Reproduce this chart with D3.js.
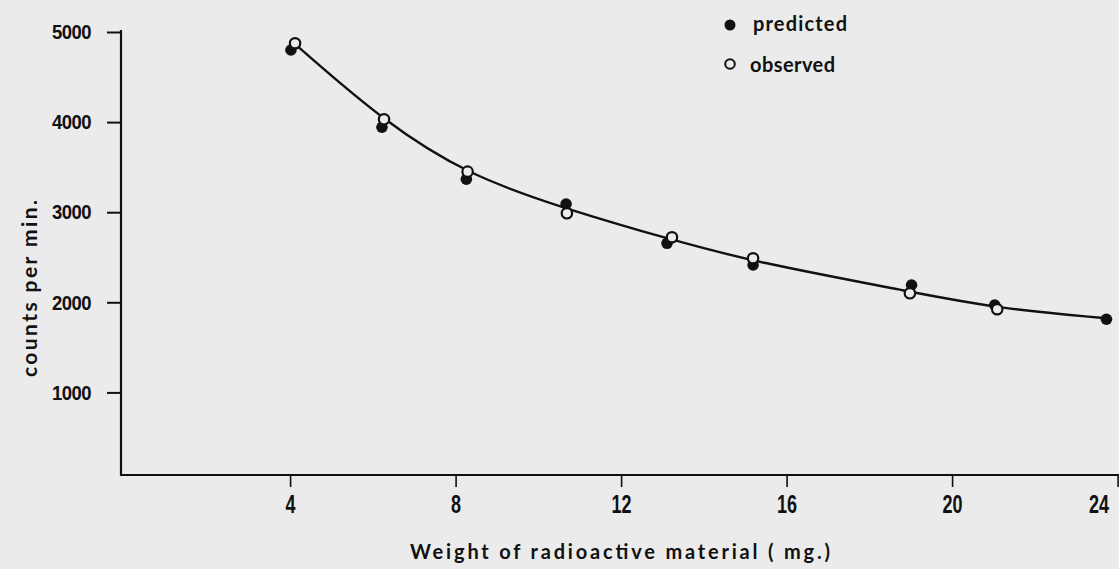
<!DOCTYPE html>
<html>
<head>
<meta charset="utf-8">
<script src="https://cdn.jsdelivr.net/npm/d3@7/dist/d3.min.js"></script>
<style>
  html, body { margin: 0; padding: 0; background: #ebebeb; }
  svg { display: block; }
</style>
</head>
<body>
<script>
// Tick values
const xTicks = [4, 8, 12, 16, 20, 24];
const yTicks = [1000, 2000, 3000, 4000, 5000];

// Predicted counts (filled dots)
const predictedWeight = [4.02, 6.22, 8.26, 10.67, 13.11, 15.19, 19.02, 21.03, 23.73];
const predictedCounts = [4800, 3943, 3366, 3091, 2655, 2414, 2192, 1970, 1812];

// Observed counts (open circles)
const observedWeight = [4.12, 6.27, 8.29, 10.69, 13.23, 15.19, 18.98, 21.09];
const observedCounts = [4875, 4031, 3450, 2988, 2722, 2489, 2100, 1923];

// Smooth fitted curve through the measurements
const curveWeight = [4.19, 6.27, 8.29, 10.67, 13.23, 15.19, 18.99, 21.05, 23.73];
const curveCounts = [4837, 4005, 3413, 3035, 2692, 2451, 2118, 1934, 1823];

const W = 1119, H = 569;
const ink = "#111";
const paper = "#ebebeb";
const titleFont = "Lato, 'DejaVu Sans', sans-serif";
const numFont = "'Liberation Sans', Arial, sans-serif";

const svg = d3.select("body").append("svg")
  .attr("width", W).attr("height", H)
  .style("background", paper);

const x = d3.scaleLinear().domain([0, 24]).range([124.6, 1117.6]);
const y = d3.scaleLinear().domain([0, 5000]).range([482.5, 32]);

const axisY = 475;   // baseline of the weight axis
const axisX = 121;   // position of the counts axis

// Counts axis
const yAxis = svg.append("g")
  .attr("transform", `translate(${axisX},0)`)
  .call(d3.axisLeft(y).tickValues(yTicks).tickSize(14).tickPadding(0).tickFormat(d3.format("d")));
yAxis.select(".domain").remove();
yAxis.selectAll(".tick line").attr("stroke", ink).attr("stroke-width", 2);
yAxis.selectAll(".tick text")
  .attr("x", 0)
  .attr("transform", "translate(-30,0) scale(0.88,1)")
  .attr("fill", ink)
  .style("font-family", numFont)
  .style("font-weight", "bold")
  .style("font-size", "21px")
  .style("letter-spacing", "-0.6px");
svg.append("line")
  .attr("x1", axisX).attr("x2", axisX)
  .attr("y1", y(5000) - 2).attr("y2", axisY + 1)
  .attr("stroke", ink).attr("stroke-width", 2.2);

// Weight axis
const xAxis = svg.append("g")
  .attr("transform", `translate(0,${axisY})`)
  .call(d3.axisBottom(x).tickValues(xTicks).tickSize(12).tickPadding(0).tickFormat(d3.format("d")));
xAxis.select(".domain").remove();
xAxis.selectAll(".tick line").attr("stroke", ink).attr("stroke-width", 1.6);
xAxis.selectAll(".tick text")
  .attr("y", 0).attr("dy", 0)
  .attr("transform", d => `translate(${d === 24 ? -19 : 0},38) scale(0.72,1)`)
  .attr("fill", ink)
  .style("font-family", numFont)
  .style("font-weight", "bold")
  .style("font-size", "25px");
svg.append("line")
  .attr("x1", axisX - 1).attr("x2", W)
  .attr("y1", axisY).attr("y2", axisY)
  .attr("stroke", ink).attr("stroke-width", 2.2);

// Axis titles
svg.append("text")
  .attr("x", 410).attr("y", 559)
  .attr("textLength", 420).attr("lengthAdjust", "spacing")
  .attr("fill", ink)
  .style("font-family", titleFont)
  .style("font-weight", "bold")
  .style("font-size", "20px")
  .text("Weight of radioactive material ( mg.)");

svg.append("text")
  .attr("transform", "translate(37,377) rotate(-90)")
  .attr("x", 0).attr("y", 0)
  .attr("textLength", 177).attr("lengthAdjust", "spacing")
  .attr("fill", ink)
  .style("font-family", titleFont)
  .style("font-weight", "bold")
  .style("font-size", "21px")
  .text("counts per min.");

// Fitted curve
const curvePts = curveWeight.map((w, i) => [w, curveCounts[i]]);
svg.append("path")
  .datum(curvePts)
  .attr("d", d3.line().x(d => x(d[0])).y(d => y(d[1])).curve(d3.curveBasis))
  .attr("fill", "none")
  .attr("stroke", ink)
  .attr("stroke-width", 2.4);

// Predicted points
svg.append("g").selectAll("circle")
  .data(predictedWeight.map((w, i) => [w, predictedCounts[i]]))
  .join("circle")
  .attr("cx", d => x(d[0])).attr("cy", d => y(d[1]))
  .attr("r", 5.8)
  .attr("fill", ink);

// Observed points
svg.append("g").selectAll("circle")
  .data(observedWeight.map((w, i) => [w, observedCounts[i]]))
  .join("circle")
  .attr("cx", d => x(d[0])).attr("cy", d => y(d[1]))
  .attr("r", 5.2)
  .attr("fill", paper)
  .attr("stroke", ink)
  .attr("stroke-width", 2.2);

// Legend
const legend = svg.append("g");
legend.append("circle").attr("cx", 730).attr("cy", 25).attr("r", 5.5).attr("fill", ink);
legend.append("circle").attr("cx", 730).attr("cy", 64).attr("r", 4.8)
  .attr("fill", paper).attr("stroke", ink).attr("stroke-width", 2);
legend.append("text")
  .attr("x", 753).attr("y", 31)
  .attr("textLength", 94).attr("lengthAdjust", "spacing")
  .attr("fill", ink)
  .style("font-family", titleFont)
  .style("font-weight", "bold")
  .style("font-size", "20px")
  .text("predicted");
legend.append("text")
  .attr("x", 750).attr("y", 72)
  .attr("textLength", 85).attr("lengthAdjust", "spacing")
  .attr("fill", ink)
  .style("font-family", titleFont)
  .style("font-weight", "bold")
  .style("font-size", "20px")
  .text("observed");
</script>
</body>
</html>
